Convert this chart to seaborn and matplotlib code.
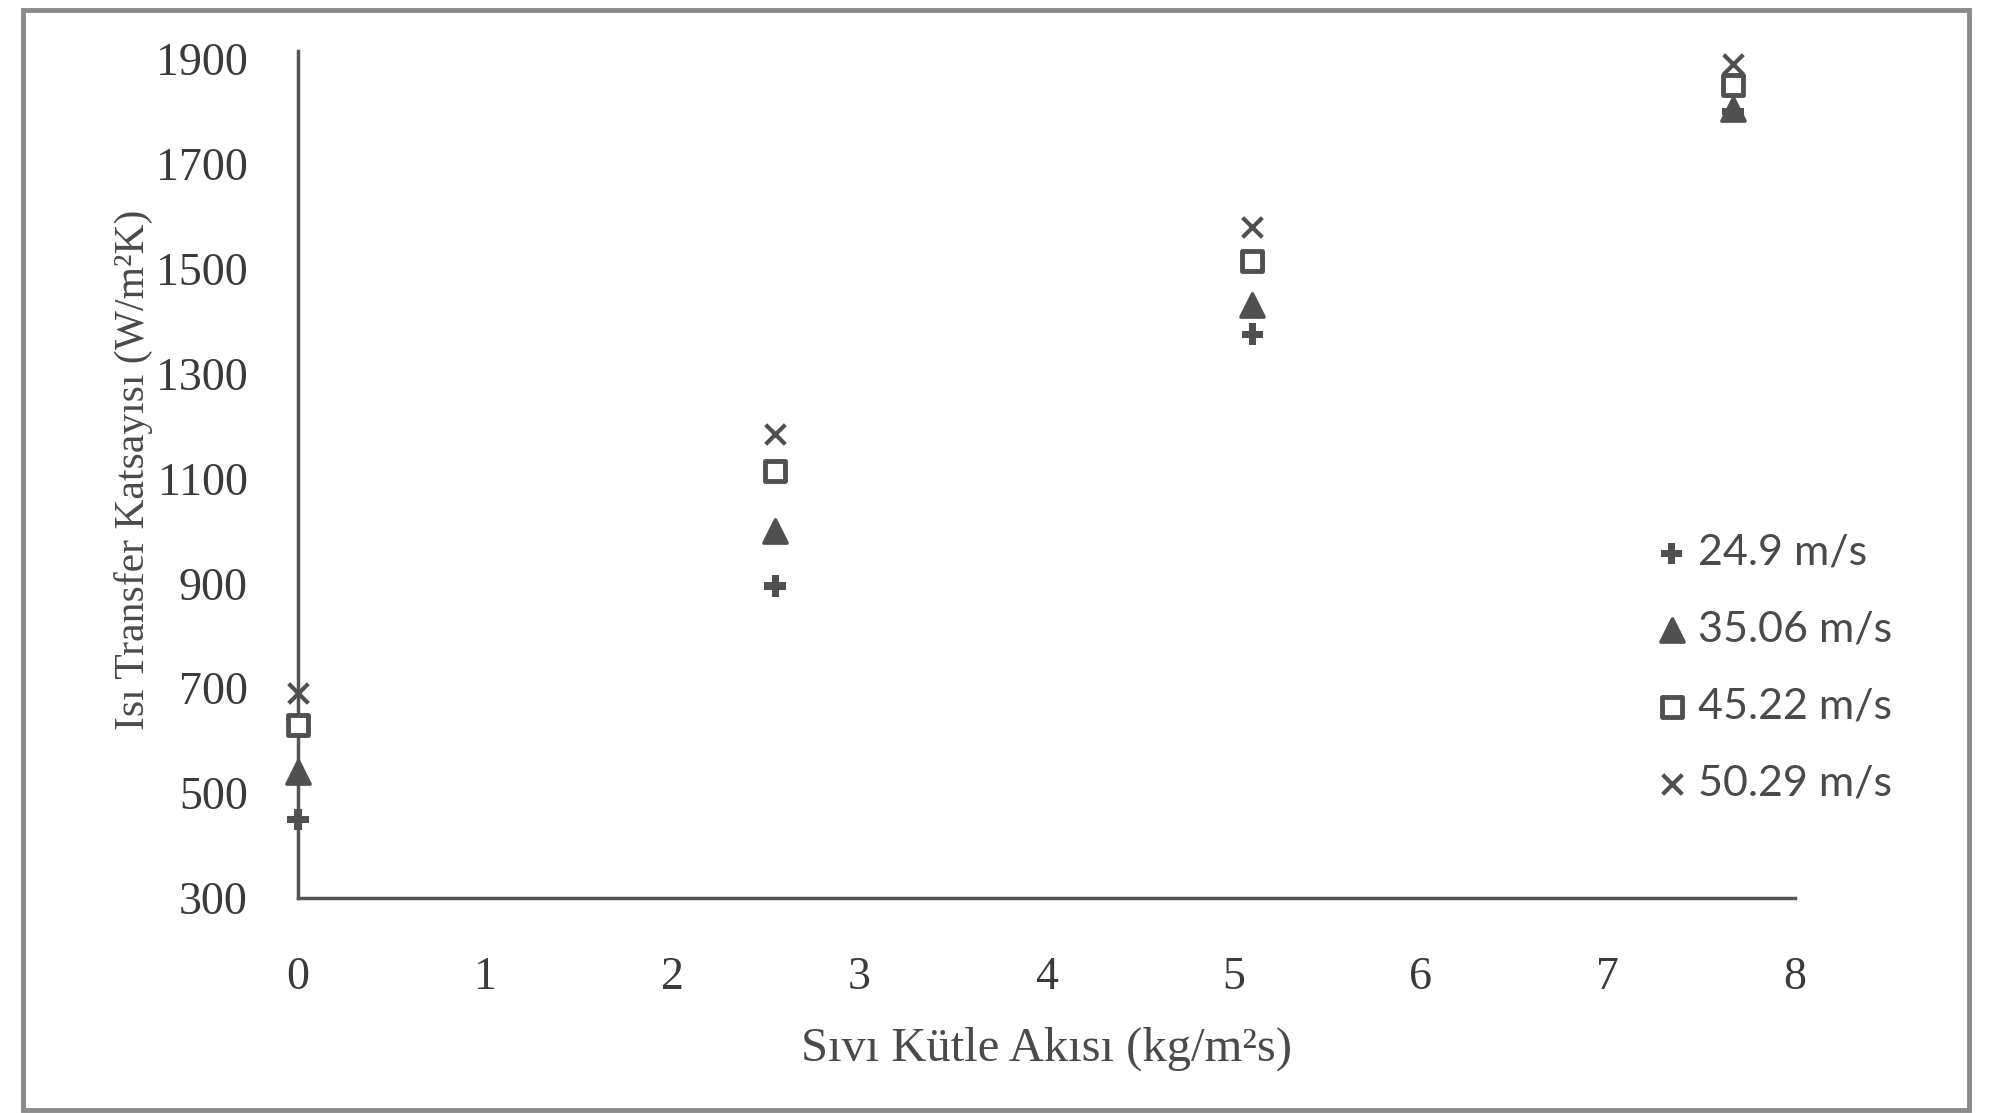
import matplotlib
matplotlib.use("Agg")
import matplotlib.pyplot as plt
import seaborn as sns
import pandas as pd
from matplotlib.patches import Rectangle

# ---- data ----
mass_flux = [0.0, 2.55, 5.1, 7.67]
series_labels = ["24.9 m/s", "35.06 m/s", "45.22 m/s", "50.29 m/s"]
h_249 = [450, 895, 1375, 1800]
h_3506 = [540, 1000, 1430, 1805]
h_4522 = [630, 1115, 1515, 1850]
h_5029 = [690, 1185, 1580, 1890]
y_ticks = [300, 500, 700, 900, 1100, 1300, 1500, 1700, 1900]
x_ticks = [0, 1, 2, 3, 4, 5, 6, 7, 8]

series_values = [h_249, h_3506, h_4522, h_5029]
rows = []
for lab, vals in zip(series_labels, series_values):
    for x, y in zip(mass_flux, vals):
        rows.append({"G": x, "h": y, "seri": lab})
df = pd.DataFrame(rows)

sns.set_theme(style="white")
plt.rcParams["font.family"] = ["Liberation Serif", "DejaVu Serif"]

C = "#505050"
fig = plt.figure(figsize=(19.89, 11.13), dpi=100)
ax = fig.add_axes([298 / 1989, 1 - 898 / 1113, (1795 - 298) / 1989, (898 - 51) / 1113])

styles = {
    "24.9 m/s": dict(marker="P", s=240, color=C, edgecolor="none"),
    "35.06 m/s": dict(marker="^", s=280, color=C, edgecolor=C, linewidth=2.5),
    "45.22 m/s": dict(marker="s", s=220, facecolor="white", edgecolor=C, linewidth=3.5),
    "50.29 m/s": dict(marker="x", s=200, color=C, linewidth=3),
}
for lab in series_labels:
    sub = df[df["seri"] == lab]
    sns.scatterplot(data=sub, x="G", y="h", ax=ax, label=lab, clip_on=False,
                    zorder=3, **styles[lab])

ax.set_xlim(0, 8)
ax.set_ylim(300, 1915)
ax.set_xticks(x_ticks)
ax.set_yticks(y_ticks)
ax.tick_params(axis="x", labelsize=33, pad=42, length=0, colors="#3a3a3a")
ax.tick_params(axis="y", labelsize=33, pad=36, length=0, colors="#3a3a3a")
for sp in ["top", "right"]:
    ax.spines[sp].set_visible(False)
for sp in ["left", "bottom"]:
    ax.spines[sp].set_color("#555555")
    ax.spines[sp].set_linewidth(2.5)

ax.set_xlabel("Sıvı Kütle Akısı (kg/m²s)", fontsize=35, color="#4a4a4a", labelpad=20)
ax.set_ylabel("")
fig.text(133 / 1989, 1 - 470 / 1113, "Isı Transfer Katsayısı (W/m²K)", rotation=90,
         ha="center", va="center", fontsize=30, color="#4a4a4a")

leg = ax.legend(loc="upper left", bbox_to_anchor=((1620 - 298) / 1497, (898 - 495) / 847),
                frameon=False, handlelength=0.6, handletextpad=0.3,
                labelspacing=0.9, prop={"family": "Lato", "size": 31})
for t in leg.get_texts():
    t.set_color("#4a4a4a")

fig.patches.append(Rectangle((23 / 1989, 3 / 1113), (1969 - 23) / 1989, (1103 - 3) / 1113,
                             transform=fig.transFigure, fill=False,
                             edgecolor="#8a8a8a", linewidth=3.5))

fig.savefig("out.png", dpi=100)
